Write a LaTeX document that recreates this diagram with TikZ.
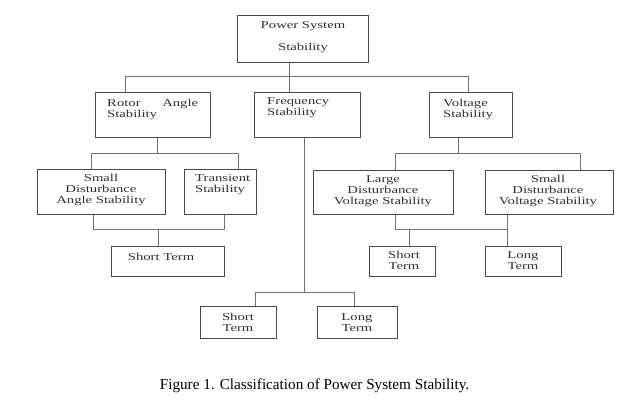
\documentclass[tikz,border=0pt]{standalone}
\usepackage{fontspec}
\setmainfont{Liberation Serif}
\newfontfamily\boxfont[FakeStretch=1.4]{Liberation Serif}
\definecolor{boxgray}{HTML}{4A4A4A}
\definecolor{linegray}{HTML}{707070}
\definecolor{textgray}{HTML}{303030}
\begin{document}
\begin{tikzpicture}[x=1pt,y=-1pt,
  box/.style={draw=boxgray, line width=0.9pt, inner sep=0pt, anchor=north west},
  txt/.style={font=\boxfont\fontsize{10.5}{11}\selectfont, text=textgray, inner sep=0pt},
  conn/.style={draw=linegray, line width=0.8pt}]
\useasboundingbox (0,0) rectangle (629,406);
% boxes
\node[box, minimum width=131pt, minimum height=47pt] (pss) at (237,15) {};
\node[box, minimum width=115pt, minimum height=45pt] (rotor) at (95,92) {};
\node[box, minimum width=106pt, minimum height=45pt] (freq) at (254,92) {};
\node[box, minimum width=83pt, minimum height=45pt] (volt) at (429,92) {};
\node[box, minimum width=128pt, minimum height=45pt] (sdas) at (37,169) {};
\node[box, minimum width=72pt, minimum height=45pt] (trans) at (184,169) {};
\node[box, minimum width=113pt, minimum height=30pt] (st1) at (111,246) {};
\node[box, minimum width=140pt, minimum height=44pt] (ldvs) at (313,170) {};
\node[box, minimum width=128pt, minimum height=44pt] (sdvs) at (485,170) {};
\node[box, minimum width=66pt, minimum height=30pt] (st2) at (369,246) {};
\node[box, minimum width=76pt, minimum height=30pt] (lt2) at (485,246) {};
\node[box, minimum width=76pt, minimum height=32pt] (st3) at (200,306) {};
\node[box, minimum width=80pt, minimum height=32pt] (lt3) at (317,306) {};
% texts (base anchor = last line baseline)
\node[txt, align=center, anchor=base] (psst) at (303,51) {Power System\\[11pt]Stability};
\node[txt, align=left, anchor=base west, text width=91pt] (rotort) at (107,107) {Rotor\hfill Angle\\Stability};
\node[txt, align=left, anchor=base west] (freqt) at (267,115.5) {Frequency\\Stability};
\node[txt, align=left, anchor=base west] (voltt) at (443,118) {Voltage\\Stability};
\node[txt, align=center, anchor=base] (sdast) at (101,204) {Small\\Disturbance\\Angle Stability};
\node[txt, align=left, anchor=base west] (transt) at (195,193) {Transient\\Stability};
\node[txt, anchor=base] (st1t) at (161,260) {Short Term};
\node[txt, align=center, anchor=base] (ldvst) at (383,204.5) {Large\\Disturbance\\Voltage Stability};
\node[txt, align=center, anchor=base] (sdvst) at (548,204.5) {Small\\Disturbance\\Voltage Stability};
\node[txt, align=center, anchor=base] (st2t) at (404,269.5) {Short\\Term};
\node[txt, align=center, anchor=base] (lt2t) at (523,269.5) {Long\\Term};
\node[txt, align=center, anchor=base] (st3t) at (238,331) {Short\\Term};
\node[txt, align=center, anchor=base] (lt3t) at (357,331) {Long\\Term};
% caption
\node[font=\fontsize{15.2}{18}\selectfont, inner sep=0pt, anchor=base] (cap) at (314.5,389) {Figure 1. Classification of Power System Stability.};
% junction coordinates
\coordinate (t1) at (289,76);
\coordinate (hl) at (125,76);
\coordinate (hr) at (468,76);
\coordinate (ra) at (157,153);
\coordinate (raL) at (91,153);
\coordinate (raR) at (238,153);
\coordinate (rbL) at (93,229);
\coordinate (rbR) at (224,229);
\coordinate (rbM) at (158,229);
\coordinate (va) at (458,153);
\coordinate (vaL) at (395,153);
\coordinate (vaR) at (580,153);
\coordinate (vbL) at (395,229);
\coordinate (vbR) at (507,229);
\coordinate (vbM) at (409,229);
\coordinate (fa) at (304,292);
\coordinate (faL) at (255,292);
\coordinate (faR) at (354,292);
% connectors
\draw[conn] (pss.south -| t1) -- (freq.north -| t1);
\draw[conn] (rotor.north -| hl) -- (hl) -- (hr) -- (volt.north -| hr);
\draw[conn] (rotor.south -| ra) -- (ra);
\draw[conn] (sdas.north -| raL) -- (raL) -- (raR) -- (trans.north -| raR);
\draw[conn] (sdas.south -| rbL) -- (rbL) -- (rbR) -- (trans.south -| rbR);
\draw[conn] (rbM) -- (st1.north -| rbM);
\draw[conn] (volt.south -| va) -- (va);
\draw[conn] (ldvs.north -| vaL) -- (vaL) -- (vaR) -- (sdvs.north -| vaR);
\draw[conn] (ldvs.south -| vbL) -- (vbL) -- (vbR);
\draw[conn] (sdvs.south -| vbR) -- (lt2.north -| vbR);
\draw[conn] (vbM) -- (st2.north -| vbM);
\draw[conn] (freq.south -| fa) -- (fa);
\draw[conn] (st3.north -| faL) -- (faL) -- (faR) -- (lt3.north -| faR);
\end{tikzpicture}
\end{document}
